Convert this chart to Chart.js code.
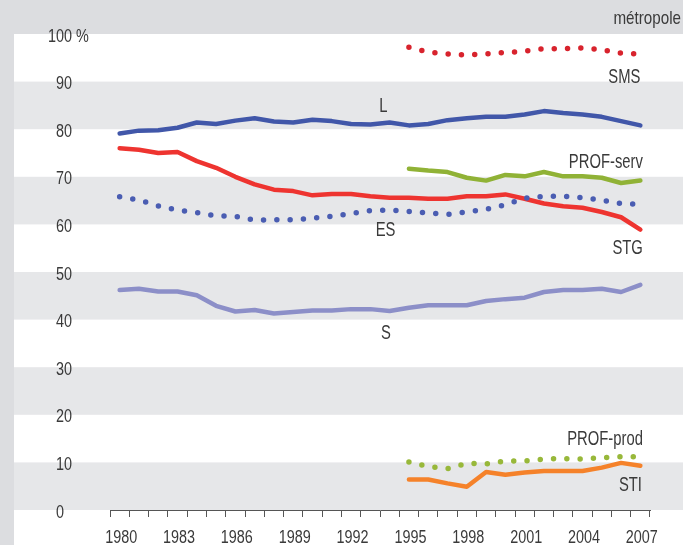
<!DOCTYPE html>
<html>
<head>
<meta charset="utf-8">
<script src="https://cdn.jsdelivr.net/npm/chart.js@4/dist/chart.umd.min.js"></script>
<style>
  html, body { margin: 0; padding: 0; background: #dcdde0; }
  #wrap { width: 683px; height: 545px; position: relative; }
</style>
</head>
<body>
<div id="wrap"><canvas id="c" width="683" height="545"></canvas></div>
<script>
const years = ['1980','1981','1982','1983','1984','1985','1986','1987','1988','1989','1990','1991','1992','1993','1994','1995','1996','1997','1998','1999','2000','2001','2002','2003','2004','2005','2006','2007'];
const yearLabelEvery = 3;
const yTicks = [0, 10, 20, 30, 40, 50, 60, 70, 80, 90, 100];

const L   = [79.1, 79.7, 79.8, 80.3, 81.4, 81.1, 81.8, 82.3, 81.6, 81.4, 82.0, 81.7, 81.1, 81.0, 81.4, 80.8, 81.1, 81.9, 82.3, 82.6, 82.6, 83.1, 83.8, 83.4, 83.1, 82.6, 81.7, 80.8];
const ES  = [65.8, 65.1, 63.9, 63.0, 62.5, 61.8, 61.7, 60.9, 61.0, 61.0, 61.3, 61.7, 62.3, 62.9, 63.0, 62.7, 62.4, 62.1, 62.6, 63.2, 64.1, 65.5, 65.9, 65.9, 65.6, 65.1, 64.4, 64.2];
const STG = [76.0, 75.7, 75.0, 75.2, 73.3, 71.9, 70.0, 68.4, 67.3, 67.0, 66.1, 66.4, 66.4, 65.9, 65.6, 65.6, 65.4, 65.4, 65.9, 65.9, 66.3, 65.4, 64.4, 63.8, 63.5, 62.6, 61.5, 58.9];
const S   = [46.2, 46.5, 45.9, 45.9, 45.1, 42.9, 41.7, 42.0, 41.3, 41.6, 41.9, 41.9, 42.2, 42.2, 41.8, 42.5, 43.0, 43.0, 43.0, 43.9, 44.3, 44.6, 45.8, 46.2, 46.2, 46.5, 45.8, 47.3];
const SMS      = [null,null,null,null,null,null,null,null,null,null,null,null,null,null,null, 97.2, 96.2, 95.8, 95.6, 95.8, 96.1, 96.4, 96.9, 96.9, 97.1, 96.7, 96.0, 95.8];
const PROFserv = [null,null,null,null,null,null,null,null,null,null,null,null,null,null,null, 71.7, 71.3, 71.0, 69.8, 69.2, 70.4, 70.1, 71.0, 70.1, 70.1, 69.8, 68.7, 69.2];
const PROFprod = [null,null,null,null,null,null,null,null,null,null,null,null,null,null,null, 10.1, 9.1, 8.7, 9.8, 9.7, 10.3, 10.3, 10.7, 10.8, 10.7, 11.0, 11.2, 11.2];
const STI      = [null,null,null,null,null,null,null,null,null,null,null,null,null,null,null, 6.4, 6.4, 5.6, 4.9, 8.0, 7.4, 7.9, 8.2, 8.2, 8.2, 8.9, 9.9, 9.3];

// series name labels: anchor in data coordinates (category index, value at text baseline)
const seriesLabels = [
  { text: 'SMS',       idx: 27.0,  val: 89.7, align: 'right' },
  { text: 'L',         idx: 13.68, val: 83.6, align: 'center' },
  { text: 'PROF-serv', idx: 27.13, val: 71.9, align: 'right' },
  { text: 'ES',        idx: 13.79, val: 57.6, align: 'center' },
  { text: 'STG',       idx: 27.13, val: 53.8, align: 'right' },
  { text: 'S',         idx: 13.81, val: 35.9, align: 'center' },
  { text: 'PROF-prod', idx: 27.13, val: 13.7, align: 'right' },
  { text: 'STI',       idx: 27.08, val: 4.0,  align: 'right' }
];
const cornerLabel = 'métropole';

const FONT = "'Liberation Sans', Arial, sans-serif";
const TEXT = '#3a3a3a';
const OUTER = '#dcdde0';
const BAND = '#e6e7e9';

function condText(ctx, text, x, y, align, size, sx) {
  ctx.save();
  ctx.translate(x, y);
  ctx.scale(sx, 1);
  ctx.font = size + 'px ' + FONT;
  ctx.textAlign = align;
  ctx.textBaseline = 'alphabetic';
  ctx.fillText(text, 0, 0);
  ctx.restore();
}

const bandsPlugin = {
  id: 'bands',
  beforeDraw(chart) {
    const ctx = chart.ctx, y = chart.scales.y;
    const W = chart.width, H = chart.height;
    ctx.save();
    ctx.fillStyle = OUTER;
    ctx.fillRect(0, 0, W, H);
    const left = 14;
    const top = y.getPixelForValue(100);
    ctx.fillStyle = '#ffffff';
    ctx.fillRect(left, top, W - left, H - top);
    ctx.fillStyle = BAND;
    for (let v = 0; v < 100; v += 20) {
      const y1 = y.getPixelForValue(v + 10), y0 = y.getPixelForValue(v);
      ctx.fillRect(left, y1, W - left, y0 - y1);
    }
    ctx.restore();
  },
  afterDraw(chart) {
    const ctx = chart.ctx, x = chart.scales.x, y = chart.scales.y;
    ctx.save();
    ctx.fillStyle = TEXT;
    // y tick labels
    yTicks.forEach(v => {
      const py = y.getPixelForValue(v) + 7.5;
      if (v === 100) condText(ctx, '100 %', 48, py, 'left', 18, 0.8);
      else condText(ctx, String(v), 56, py, 'left', 18, 0.8);
    });
    // x tick labels
    years.forEach((yr, i) => {
      if (i % yearLabelEvery === 0) {
        condText(ctx, yr, x.getPixelForValue(i) + 1.5, chart.chartArea.bottom + 33, 'center', 18, 0.8);
      }
    });
    // series labels
    seriesLabels.forEach(l => {
      condText(ctx, l.text, x.getPixelForValue(l.idx), y.getPixelForValue(l.val), l.align, 20, 0.74);
    });
    condText(ctx, cornerLabel, chart.width - 2, 24, 'right', 19, 0.8);
    ctx.restore();
  }
};

function solid(label, data, color) {
  return { label, data, borderColor: color, backgroundColor: color, borderWidth: 4.5,
    pointRadius: 0, tension: 0, borderJoinStyle: 'round', borderCapStyle: 'round', spanGaps: false };
}
function dotted(label, data, color) {
  return { label, data, borderColor: color, backgroundColor: color, borderWidth: 5.5,
    borderDash: [0, 13.3], borderCapStyle: 'round', borderJoinStyle: 'round',
    pointRadius: 0, tension: 0 };
}

new Chart(document.getElementById('c'), {
  type: 'line',
  data: {
    labels: years,
    datasets: [
      dotted('SMS', SMS, '#d8232d'),
      dotted('ES', ES, '#4a5db2'),
      dotted('PROF-prod', PROFprod, '#98b83a'),
      solid('L', L, '#4157a9'),
      solid('PROF-serv', PROFserv, '#90b236'),
      solid('STG', STG, '#ee3430'),
      solid('S', S, '#8c8fc8'),
      solid('STI', STI, '#f5822a')
    ]
  },
  options: {
    responsive: false,
    animation: false,
    events: [],
    layout: { padding: { left: 56, top: 34, right: 33, bottom: 0 } },
    plugins: { legend: { display: false }, tooltip: { enabled: false } },
    scales: {
      x: {
        type: 'category',
        offset: true,
        afterFit(s) { s.height = 35; },
        grid: { display: true, offset: true, drawOnChartArea: false, drawTicks: true, tickLength: 7, color: '#555555', lineWidth: 1 },
        border: { display: true, color: '#555555', width: 1 },
        ticks: { display: false, autoSkip: false, maxRotation: 0 }
      },
      y: {
        min: 0, max: 100,
        afterFit(s) { s.width = 54; },
        afterBuildTicks(s) { s.ticks = yTicks.map(v => ({ value: v })); },
        grid: { display: false },
        border: { display: false },
        ticks: { display: false }
      }
    }
  },
  plugins: [bandsPlugin]
});
</script>
</body>
</html>
